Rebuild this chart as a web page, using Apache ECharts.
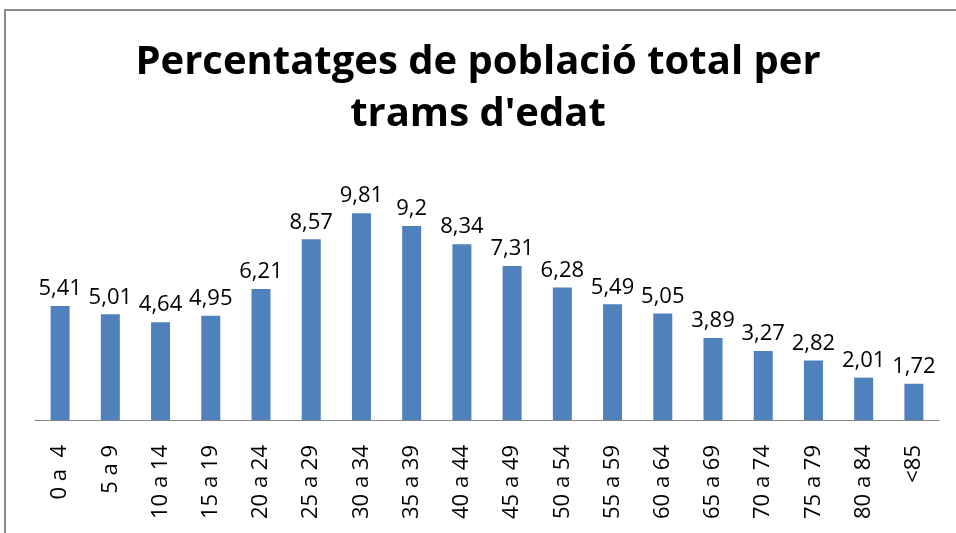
<!DOCTYPE html>
<html>
<head>
<meta charset="utf-8">
<script src="https://cdn.jsdelivr.net/npm/echarts@6/dist/echarts.min.js"></script>
<style>
html,body{margin:0;padding:0;background:#fff;}
#chart{width:956px;height:533px;}
</style>
</head>
<body>
<div id="chart"></div>
<script>
// trams d'edat
var categories = ['0 a  4','5 a 9','10 a 14','15 a 19','20 a 24','25 a 29','30 a 34','35 a 39','40 a 44',
	'45 a 49','50 a 54','55 a 59','60 a 64','65 a 69','70 a 74','75 a 79','80 a 84','<85'];
// percentatges
var values = [5.41,5.01,4.64,4.95,6.21,8.57,9.81,9.2,8.34,7.31,6.28,5.49,5.05,3.89,3.27,2.82,2.01,1.72];
var titleLines = ['Percentatges de població total per','trams d\'edat'];

var chart = echarts.init(document.getElementById('chart'));
var option = {
	animation:false,
	title:{
		text: titleLines.join('\n'),
		left:'center',
		top:32,
		textStyle:{
			fontFamily:'Open Sans',
			fontWeight:'bold',
			fontSize:40,
			lineHeight:52,
			color:'#000'
		}
	},
	graphic:[
		{type:'rect',shape:{x:4,y:9,width:952,height:2},style:{fill:'#8c8c8c'}},//marc
		{type:'rect',shape:{x:4,y:9,width:2,height:524},style:{fill:'#8c8c8c'}}
	],
	grid:{
		left:35,
		right:17,
		top:167,
		bottom:113
	},
	xAxis:{
		type:'category',
		data:categories,
		axisLine:{lineStyle:{color:'#868686',width:1}},
		axisTick:{show:false},
		axisLabel:{
			rotate:90,
			interval:0,
			margin:25,
			fontFamily:'Open Sans',
			fontSize:22,
			color:'#000'
		}
	},
	yAxis:{
		type:'value',
		min:0,
		max:12,
		show:false,
		splitLine:{show:false}
	},
	series:[{
		type:'bar',
		data:values,
		barWidth:19,
		itemStyle:{color:'#4F81BD'},
		label:{
			show:true,
			position:'top',
			distance:6,
			fontFamily:'Open Sans',
			fontSize:22,
			color:'#000',
			formatter:function(p){ return String(p.value).replace('.',','); }
		}
	}]
};
chart.setOption(option);
</script>
</body>
</html>
